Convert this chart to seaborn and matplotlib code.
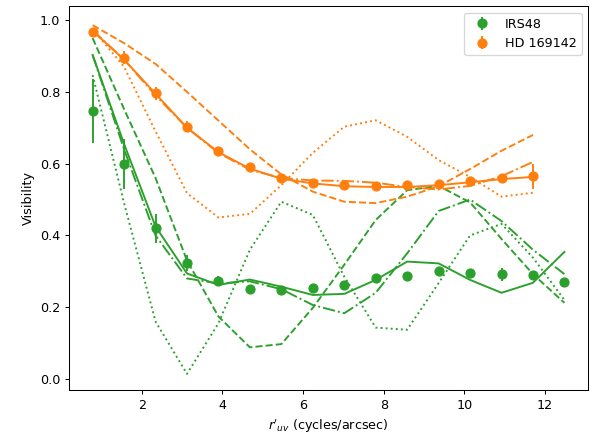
import numpy as np
import matplotlib
matplotlib.use("Agg")
import matplotlib.pyplot as plt
import seaborn as sns

# baselines (cycles/arcsec)
x_irs = [0.78, 1.56, 2.34, 3.12, 3.90, 4.68, 5.46, 6.24, 7.02, 7.80, 8.58, 9.36, 10.14, 10.92, 11.70, 12.48]
x_hd = x_irs[:15]

# observed visibilities
v_irs = [0.747, 0.598, 0.420, 0.322, 0.273, 0.250, 0.248, 0.254, 0.263, 0.282, 0.288, 0.301, 0.294, 0.292, 0.290, 0.269]
e_irs = [0.090, 0.070, 0.040, 0.022, 0.015, 0.010, 0.008, 0.008, 0.010, 0.010, 0.010, 0.010, 0.012, 0.018, 0.010, 0.010]
v_hd = [0.966, 0.895, 0.796, 0.703, 0.635, 0.590, 0.561, 0.547, 0.540, 0.538, 0.540, 0.543, 0.553, 0.560, 0.565]
e_hd = [0.012, 0.018, 0.018, 0.015, 0.010, 0.010, 0.008, 0.008, 0.008, 0.008, 0.010, 0.010, 0.010, 0.012, 0.035]

# model curves, IRS48
irs_solid = [0.903, 0.655, 0.425, 0.294, 0.262, 0.277, 0.257, 0.234, 0.237, 0.276, 0.327, 0.322, 0.276, 0.240, 0.268, 0.354]
irs_dash = [0.950, 0.752, 0.560, 0.330, 0.174, 0.088, 0.097, 0.198, 0.318, 0.443, 0.526, 0.538, 0.492, 0.390, 0.292, 0.212]
irs_dashdot = [0.903, 0.640, 0.400, 0.280, 0.266, 0.272, 0.250, 0.206, 0.183, 0.240, 0.350, 0.468, 0.500, 0.440, 0.360, 0.292]
irs_dot = [0.847, 0.490, 0.160, 0.014, 0.155, 0.360, 0.494, 0.457, 0.285, 0.143, 0.137, 0.267, 0.400, 0.432, 0.338, 0.220]

# model curves, HD 169142
hd_solid = [0.970, 0.890, 0.795, 0.700, 0.632, 0.586, 0.558, 0.545, 0.537, 0.535, 0.535, 0.540, 0.548, 0.557, 0.563]
hd_dash = [0.986, 0.936, 0.878, 0.800, 0.720, 0.640, 0.570, 0.522, 0.494, 0.490, 0.508, 0.537, 0.585, 0.636, 0.680]
hd_dashdot = [0.972, 0.890, 0.790, 0.700, 0.630, 0.583, 0.560, 0.553, 0.552, 0.547, 0.535, 0.528, 0.538, 0.565, 0.605]
hd_dot = [0.975, 0.870, 0.690, 0.518, 0.450, 0.460, 0.540, 0.630, 0.703, 0.721, 0.675, 0.610, 0.563, 0.508, 0.519]

green = "#2ca02c"
orange = "#ff7f0e"

fig, ax = plt.subplots(figsize=(590 / 92, 441 / 92), dpi=92)

for y, ls in [(irs_solid, "-"), (irs_dash, "--"), (irs_dashdot, "-."), (irs_dot, ":")]:
    sns.lineplot(x=x_irs, y=y, color=green, linestyle=ls, linewidth=1.5, ax=ax)
for y, ls in [(hd_solid, "-"), (hd_dash, "--"), (hd_dashdot, "-."), (hd_dot, ":")]:
    sns.lineplot(x=x_hd, y=y, color=orange, linestyle=ls, linewidth=1.5, ax=ax)

h1 = ax.errorbar(x_irs, v_irs, yerr=e_irs, fmt="o", color=green, ms=7, elinewidth=1.5, label="IRS48")
h2 = ax.errorbar(x_hd, v_hd, yerr=e_hd, fmt="o", color=orange, ms=7, elinewidth=1.5, label="HD 169142")

ax.set_xlim(0.195, 13.07)
ax.set_ylim(-0.031, 1.039)
ax.set_xlabel(r"$r'_{uv}$ (cycles/arcsec)")
ax.set_ylabel("Visibility")
ax.legend(handles=[h1, h2], loc="upper right")

fig.subplots_adjust(left=0.117, right=0.997, bottom=0.1156, top=0.986)
fig.savefig("out.png", dpi=92)
